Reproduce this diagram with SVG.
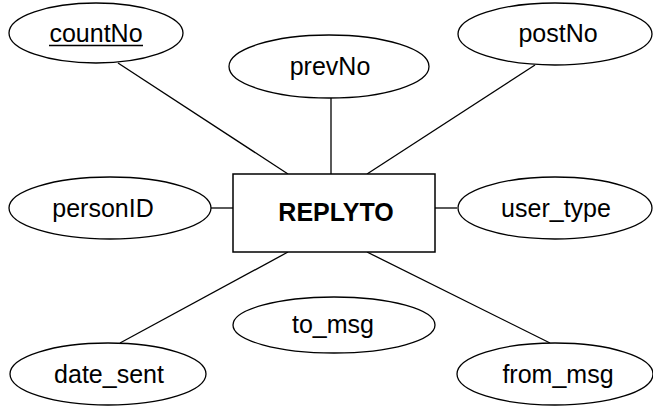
<svg xmlns="http://www.w3.org/2000/svg" width="653" height="408" viewBox="0 0 653 408">
<style>
.attr ellipse{fill:#fff;stroke:#000;stroke-width:1.3}
.ent rect{fill:#fff;stroke:#000;stroke-width:1.5}
text{font-family:"Liberation Sans",Arial,sans-serif;font-size:25px;fill:#000;text-anchor:middle}
.b{font-weight:bold;font-size:25px}
#edges line{stroke:#000;stroke-width:1.3}
</style>
<rect width="653" height="408" fill="#fff"/>
<g id="edges">
<line x1="118" y1="63" x2="288" y2="174"/>
<line x1="331" y1="98" x2="331" y2="174"/>
<line x1="535" y1="65" x2="367" y2="174"/>
<line x1="211" y1="208" x2="233" y2="208"/>
<line x1="435" y1="208" x2="457" y2="208"/>
<line x1="288" y1="252" x2="120" y2="343"/>
<line x1="367" y1="252" x2="550" y2="343"/>
</g>
<g id="REPLYTO" class="ent"><rect x="233" y="174" width="202" height="78"/><text class="b" x="336" y="221">REPLYTO</text></g>
<g id="countNo" class="attr"><ellipse cx="96" cy="33" rx="87" ry="30"/><text x="96" y="42">countNo</text><line x1="49" y1="45.5" x2="143" y2="45.5" stroke="#000" stroke-width="1.5"/></g>
<g id="prevNo" class="attr"><ellipse cx="329" cy="66.5" rx="100" ry="31.5"/><text x="330" y="75">prevNo</text></g>
<g id="postNo" class="attr"><ellipse cx="555" cy="34" rx="97" ry="31"/><text x="558" y="42">postNo</text></g>
<g id="personID" class="attr"><ellipse cx="110" cy="208" rx="101" ry="31"/><text x="103" y="217">personID</text></g>
<g id="user_type" class="attr"><ellipse cx="555" cy="208" rx="97" ry="31"/><text x="556" y="217">user_type</text></g>
<g id="to_msg" class="attr"><ellipse cx="334" cy="325" rx="101" ry="28"/><text x="333" y="333">to_msg</text></g>
<g id="date_sent" class="attr"><ellipse cx="108" cy="374" rx="98" ry="31"/><text x="109" y="383">date_sent</text></g>
<g id="from_msg" class="attr"><ellipse cx="555" cy="374" rx="98" ry="31"/><text x="558" y="383">from_msg</text></g>
</svg>
